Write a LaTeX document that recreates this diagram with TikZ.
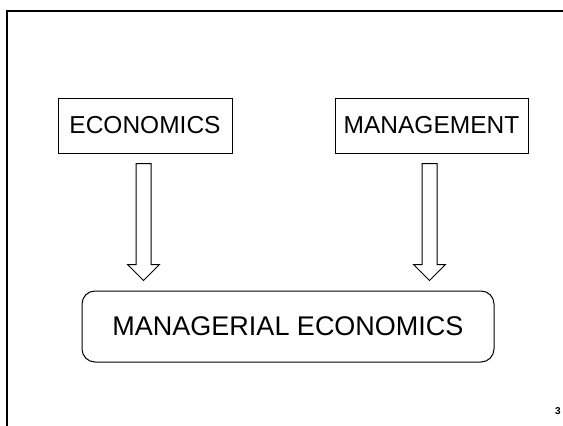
\documentclass[tikz,border=0pt]{standalone}
\usepackage{fontspec}
\setmainfont{Liberation Sans}
\usepackage{tikz}
\usetikzlibrary{positioning,calc}
\tikzstyle{caixa} = [rectangle, minimum height=55pt, text centered, draw=black, line width=1pt, inner sep=0pt, font=\fontsize{24.5}{29}\selectfont]
\tikzstyle{caixafinal} = [rectangle, rounded corners=13pt, minimum width=412pt, minimum height=71pt, text centered, draw=black, line width=1pt, inner sep=0pt, font=\fontsize{27}{32}\selectfont]
\tikzstyle{setaoca} = [draw=black, line width=1pt, fill=white, line join=miter]
\tikzstyle{moldura} = [line width=2pt]

\begin{document}
\begin{tikzpicture}[x=1pt, y=1pt]
        \useasboundingbox (0,0) rectangle (563,-426);
        % Moldura do slide
        \draw [moldura] (7,-426) -- (7,-11) -- (563,-11);
        % Nó principal
        \node (gerencial) [caixafinal] at (288,-326.5) {MANAGERIAL ECONOMICS};
        % Economia e Gestão
        \node (economia) [caixa, minimum width=174pt, above=137pt of gerencial, xshift=-143pt] {ECONOMICS};
        \node (gestao) [caixa, minimum width=193pt, above=137pt of gerencial, xshift=143.5pt] {MANAGEMENT};
        % Setas ocas
        \coordinate (e1) at ($(economia.south)+(-1.5,-10)$);
        \coordinate (e2) at ($(e1 |- gerencial.north)+(0,10)$);
        \draw [setaoca] ($(e1)+(-7.5,0)$) -- ($(e1)+(7.5,0)$) -- ($(e2)+(7.5,16)$) -- ($(e2)+(16,16)$) -- (e2) -- ($(e2)+(-16,16)$) -- ($(e2)+(-7.5,16)$) -- cycle;
        \coordinate (g1) at ($(gestao.south)+(-2,-10)$);
        \coordinate (g2) at ($(g1 |- gerencial.north)+(0,10)$);
        \draw [setaoca] ($(g1)+(-7.5,0)$) -- ($(g1)+(7.5,0)$) -- ($(g2)+(7.5,16)$) -- ($(g2)+(16,16)$) -- (g2) -- ($(g2)+(-16,16)$) -- ($(g2)+(-7.5,16)$) -- cycle;
        % Número do slide
        \node (pagina) at (558,-411.5) {\fontsize{10}{12}\selectfont\bfseries 3};
    \end{tikzpicture}
\end{document}
